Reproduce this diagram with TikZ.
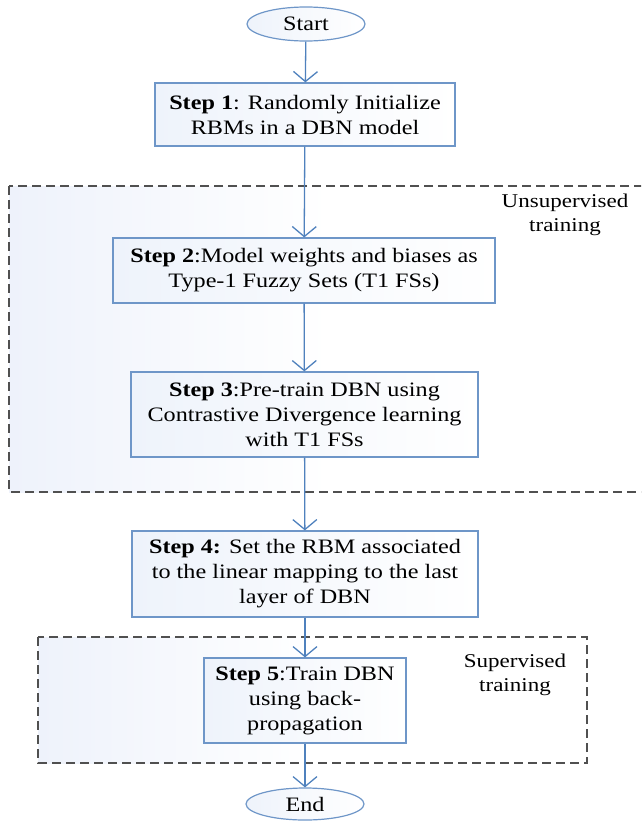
\documentclass[tikz,border=0pt]{standalone}
\usepackage{fontspec}
\setmainfont[FakeStretch=1.18]{Liberation Serif}
\usetikzlibrary{shapes.geometric,arrows.meta}
\definecolor{flowblue}{RGB}{79,129,189}
\definecolor{boxline}{RGB}{110,150,200}
\definecolor{boxfill}{RGB}{238,243,251}
\definecolor{phasefill}{RGB}{238,242,251}
\definecolor{dashgray}{RGB}{80,80,80}
\begin{document}
\begin{tikzpicture}[x=1pt,y=-1pt,
  stepbox/.style={draw=boxline, line width=1.2pt, left color=boxfill, right color=white,
    align=center, inner sep=0pt, font=\fontsize{20.5}{25}\selectfont},
  terminal/.style={ellipse, draw=boxline, line width=1.2pt, left color=boxfill, right color=white,
    inner sep=0pt, font=\fontsize{20.5}{25}\selectfont},
  flow/.style={draw=flowblue, line width=1.3pt, -{Straight Barb[length=10pt,width=24pt]}},
  phase/.style={draw=dashgray, line width=1.2pt, dash pattern=on 9pt off 5pt,
    left color=phasefill, right color=white, middle color=white},
  phaselabel/.style={align=center, font=\fontsize{19.5}{24}\selectfont}
]
\useasboundingbox (0,0) rectangle (641,822);
\clip (0,0) rectangle (641,822);

% training phases
\draw[phase] (9,186) rectangle (650,492);
\draw[phase] (38,637) rectangle (587,763);
\node[phaselabel] (unsup) at (565,215) {Unsupervised\\training};
\node[phaselabel] (sup) at (515,675) {Supervised\\training};

% flow nodes
\node[terminal, minimum width=118pt, minimum height=34pt] (start) at (306,24) {Start};
\node[stepbox, minimum width=300pt, minimum height=63pt] (s1) at (305,114.5)
  {\textbf{Step 1}: Randomly Initialize\\RBMs in a DBN model};
\node[stepbox, minimum width=382pt, minimum height=65pt] (s2) at (304,270.5)
  {\textbf{Step 2}:Model weights and biases as\\Type-1 Fuzzy Sets (T1 FSs)};
\node[stepbox, minimum width=347pt, minimum height=85pt] (s3) at (304.5,414.5)
  {\textbf{Step 3}:Pre-train DBN using\\Contrastive Divergence learning\\with T1 FSs};
\node[stepbox, minimum width=346pt, minimum height=86pt] (s4) at (305,574)
  {\textbf{Step 4:} Set the RBM associated\\to the linear mapping to the last\\layer of DBN};
\node[stepbox, minimum width=202pt, minimum height=85pt] (s5) at (305,700.5)
  {\textbf{Step 5}:Train DBN\\using back-\\propagation};
\node[terminal, minimum width=118pt, minimum height=32pt] (end) at (305,804) {End};

% connectors
\draw[flow] (start) -- (s1);
\draw[flow] (s1) -- (s2);
\draw[flow] (s2) -- (s3);
\draw[flow] (s3) -- (s4);
\draw[flow] (s4) -- (s5);
\draw[flow] (s5) -- (end);
\end{tikzpicture}
\end{document}
